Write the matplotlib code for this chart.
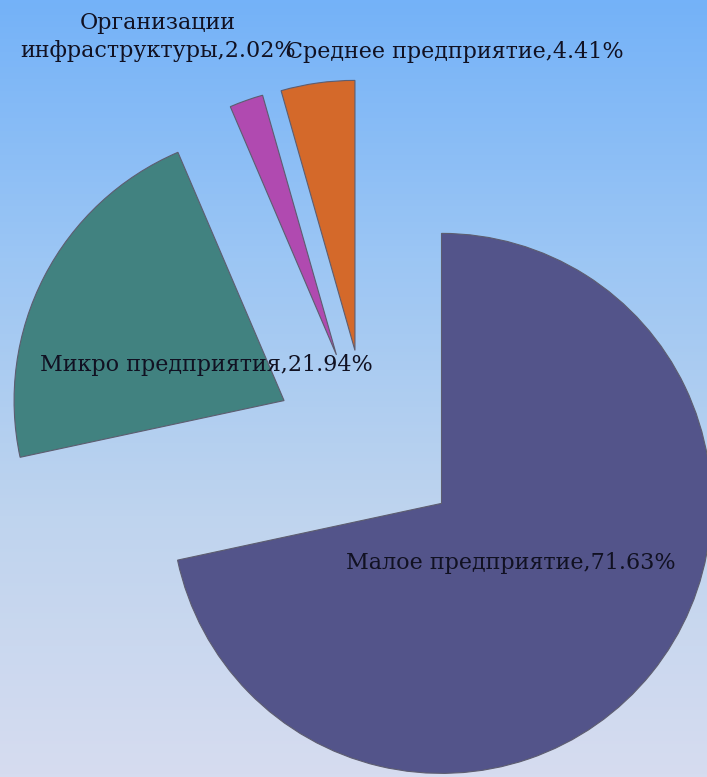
import numpy as np
import matplotlib
matplotlib.use('Agg')
import matplotlib.pyplot as plt
from matplotlib.colors import LinearSegmentedColormap

# data
categories = ['Малое предприятие', 'Микро предприятия',
              'Организации\nинфраструктуры', 'Среднее предприятие']
shares = [71.63, 21.94, 2.02, 4.41]
colors = ['#53548a', '#418280', '#b04ab0', '#d4692a']

W, H = 707, 777
R = 270
fig = plt.figure(figsize=(W / 100, H / 100), dpi=100)

# gradient background
bg = fig.add_axes([0, 0, 1, 1])
cmap = LinearSegmentedColormap.from_list(
    'bg', ['#d6dcf0', '#bfd4ee', '#9cc6f4', '#74b2f8'])
grad = np.linspace(0, 1, 256).reshape(-1, 1)
bg.imshow(grad, aspect='auto', cmap=cmap, origin='lower', extent=[0, 1, 0, 1])
bg.axis('off')

ax = fig.add_axes([0, 0, 1, 1])
ax.patch.set_alpha(0)
# explode is in data units when radius != 1
wedges, _ = ax.pie(shares, colors=colors, startangle=90, counterclock=False,
                   explode=[0.35 * R] * len(shares), radius=R, center=(368, 333),
                   wedgeprops=dict(edgecolor='#5d5d70', linewidth=0.8))
ax.set_xlim(0, W)
ax.set_ylim(0, H)
ax.set_aspect('equal')
ax.axis('off')

# label positions (pixels, from bottom)
label_pos = [(511, 214), (206, 412), (158, 740), (455, 725)]
for name, val, (x, y) in zip(categories, shares, label_pos):
    ax.text(x, y, f'{name},{val:.2f}%', ha='center', va='center',
            fontsize=16, family='DejaVu Serif', color='#111122',
            linespacing=1.3)

fig.savefig('out.png', dpi=100)
